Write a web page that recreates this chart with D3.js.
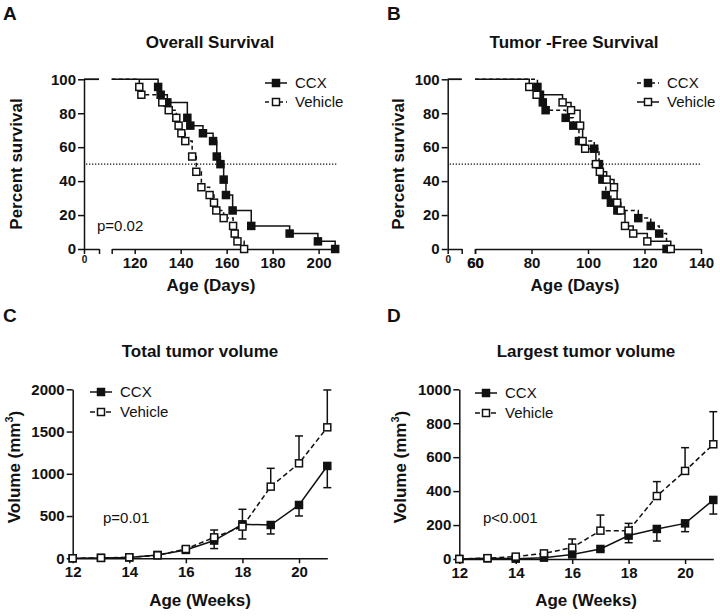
<!DOCTYPE html>
<html><head><meta charset="utf-8">
<script src="https://cdn.jsdelivr.net/npm/d3@7"></script>
<style>
body{margin:0;background:#fff}
svg{display:block}
text{font-family:"Liberation Sans",Arial,Helvetica,sans-serif;fill:#111}
</style>
</head><body>
<svg id="chart" width="720" height="616"></svg>
<script>
// ---------------- DATA ----------------
const survivalTicks = [0, 20, 40, 60, 80, 100];

// A: Overall survival (days, percent)
const osTicks = [120, 140, 160, 180, 200];
const osDaysCCX = [130.2,131.3,134.2,142.9,144.2,149.7,154.1,155.7,157.3,158.7,159.7,162.6,170.7,187.4,199.7,207.2];
const osPctCCX  = [95.5,90.9,86.4,77.3,72.7,68.2,63.6,54.5,50.0,40.9,31.8,22.7,13.6,9.1,4.5,0];
const osDaysVeh = [122.0,122.9,132.0,134.8,138.1,139.1,140.3,142.0,145.0,146.8,149.0,152.6,154.5,155.5,158.7,162.8,163.5,164.7,167.6];
const osPctVeh  = [95.5,90.9,86.4,81.8,77.3,72.7,68.2,63.6,54.5,45.5,36.4,31.8,27.3,22.7,18.2,13.6,9.1,4.5,0];

// B: Tumor-free survival
const tfTicks = [60, 80, 100, 120, 140];
const tfDaysCCX = [82.1,83.0,84.0,85.0,92.1,94.8,96.8,102.2,103.9,105.1,106.3,108.1,110.4,117.8,122.2,125.2,127.8];
const tfPctCCX  = [95.5,90.9,86.4,81.8,77.3,72.7,63.6,59.1,50.0,40.9,31.8,27.3,22.7,18.2,13.6,9.1,0];
const tfDaysVeh = [79.2,81.8,91.0,94.0,97.2,98.1,99.0,102.8,104.2,106.6,109.2,110.3,111.6,113.1,116.0,121.0,129.3];
const tfPctVeh  = [95.5,90.9,86.4,81.8,72.7,63.6,59.1,50.0,45.5,40.9,36.4,27.3,22.7,13.6,9.1,4.5,0];

// C / D: tumor volume by week
const weeks = [12,13,14,15,16,17,18,19,20,21];
const weekTicks = [12,14,16,18,20];
const totalTicks = [0,500,1000,1500,2000];
const totalCCX    = [0,5,10,40,99,210,402,394,631,1093];
const totalCCXErr = [0,0,0,5,15,95,173,106,130,257];
const totalVeh    = [0,5,12,35,110,248,375,848,1124,1550];
const totalVehErr = [0,0,5,8,20,87,205,217,324,442];
const largestTicks = [0,200,400,600,800,1000];
const largestCCX    = [0,4,2,8,27,59,138,177,210,348];
const largestCCXErr = [0,0,0,3,10,10,42,71,49,83];
const largestVeh    = [0,5,14,33,67,167,167,371,519,676];
const largestVehErr = [0,0,3,5,51,92,43,85,137,192];

// ---------------- DRAWING ----------------
const INK = "#111";
const svg = d3.select("#chart");
const fmt = d3.format("d");

function styleAxis(sel, fs) {
  sel.selectAll(".domain").attr("stroke", INK).attr("stroke-width", 1.5);
  sel.selectAll(".tick line").attr("stroke", INK).attr("stroke-width", 1.5);
  sel.selectAll(".tick text").attr("font-size", fs).attr("font-weight", "bold")
     .attr("fill", INK).attr("font-family", '"Liberation Sans",Arial,sans-serif');
}

function marker(g, x, y, filled) {
  g.append("rect").attr("x", x - 3.5).attr("y", y - 3.5).attr("width", 7).attr("height", 7)
    .attr("fill", filled ? INK : "#fff").attr("stroke", INK).attr("stroke-width", 1.5);
}

function legend(g, x0, ys, items) {
  items.forEach((it, i) => {
    const y = ys[i];
    g.append("line").attr("x1", x0).attr("x2", x0 + 22).attr("y1", y).attr("y2", y)
      .attr("stroke", INK).attr("stroke-width", 1.5).attr("stroke-dasharray", it.dash || null);
    marker(g, x0 + 11, y, it.filled);
    g.append("text").attr("x", x0 + 30).attr("y", y).attr("dy", "0.36em")
      .attr("font-size", 15).text(it.name);
  });
}

function panelText(g, cfg) {
  g.append("text").attr("x", cfg.letter[0]).attr("y", cfg.letter[1]).attr("font-size", 19)
    .attr("font-weight", "bold").text(cfg.letterText);
  g.append("text").attr("x", cfg.title[0]).attr("y", cfg.title[1]).attr("text-anchor", "middle")
    .attr("font-size", 17).attr("font-weight", "bold").text(cfg.titleText);
  g.append("text").attr("x", cfg.xlab[0]).attr("y", cfg.xlab[1]).attr("text-anchor", "middle")
    .attr("font-size", 17).attr("font-weight", "bold").text(cfg.xlabText);
}

function survivalPanel(cfg) {
  const g = svg.append("g");
  const y = d3.scaleLinear().domain([0, 100]).range([249, 79.3]);
  const xa = d3.scaleLinear().domain(cfg.seg1).range(cfg.r1);
  const xb = d3.scaleLinear().domain(cfg.seg2).range(cfg.r2);

  g.append("g").attr("transform", `translate(${cfg.r1[0]},0)`)
    .call(d3.axisLeft(y).tickValues(survivalTicks).tickSize(6).tickSizeOuter(0).tickPadding(2).tickFormat(fmt))
    .call(s => styleAxis(s, 15));

  const ax1 = g.append("g").attr("transform", "translate(0,249)")
    .call(d3.axisBottom(xa).tickValues(cfg.seg1).tickSize(5).tickSizeOuter(0)
      .tickFormat(d => d === 0 ? "0" : ""))
    .call(s => styleAxis(s, 10));
  ax1.selectAll(".tick text").attr("dy", "0.6em");

  g.append("g").attr("transform", "translate(0,249)")
    .call(d3.axisBottom(xb).tickValues([cfg.seg2[0]].concat(cfg.ticks)).tickSize(5).tickSizeOuter(0)
      .tickFormat(d => cfg.ticks.includes(d) ? fmt(d) : ""))
    .call(s => styleAxis(s, 15));

  // median reference line
  g.append("line").attr("x1", xa(cfg.seg1[0]) + 2).attr("x2", xb(cfg.seg2[1]))
    .attr("y1", y(50)).attr("y2", y(50)).attr("stroke", INK).attr("stroke-width", 1.3)
    .attr("stroke-dasharray", "1.3,1.7");

  const line = d3.line().x(d => xb(d[0])).y(d => y(d[1])).curve(d3.curveStepAfter);
  cfg.series.forEach(s => {
    const pts = [[cfg.seg2[0], 100]].concat(s.days.map((d, i) => [d, s.pct[i]]));
    g.append("path").attr("d", line(pts)).attr("fill", "none").attr("stroke", INK)
      .attr("stroke-width", 1.5).attr("stroke-dasharray", s.dash || null);
    g.append("line").attr("x1", xa(cfg.seg1[0])).attr("x2", xa(cfg.seg1[1]))
      .attr("y1", y(100)).attr("y2", y(100)).attr("stroke", INK).attr("stroke-width", 1.5);
  });
  cfg.series.forEach(s => {
    s.days.forEach((d, i) => marker(g, xb(d), y(s.pct[i]), s.filled));
  });

  legend(g, cfg.legendX, [83, 102], cfg.series);
  g.append("text").attr("transform", `translate(${cfg.ylabX},164) rotate(-90)`)
    .attr("text-anchor", "middle").attr("font-size", 17).attr("font-weight", "bold")
    .text("Percent survival");
  if (cfg.p) g.append("text").attr("x", cfg.p[0]).attr("y", cfg.p[1]).attr("font-size", 15).text(cfg.pText);
  panelText(g, cfg);
}

function volumePanel(cfg) {
  const g = svg.append("g");
  const x = d3.scaleLinear().domain([12, 21]).range(cfg.xr);
  const y = d3.scaleLinear().domain([0, cfg.yticks[cfg.yticks.length - 1]]).range(cfg.yr);

  g.append("g").attr("transform", `translate(${cfg.xr[0]},0)`)
    .call(d3.axisLeft(y).tickValues(cfg.yticks).tickSize(6).tickSizeOuter(0).tickPadding(2).tickFormat(fmt))
    .call(s => styleAxis(s, 15));
  g.append("g").attr("transform", `translate(0,${cfg.yr[0]})`)
    .call(d3.axisBottom(x).tickValues(weekTicks).tickSize(5).tickSizeOuter(0).tickFormat(fmt))
    .call(s => styleAxis(s, 15));

  const line = d3.line().x((d, i) => x(weeks[i])).y(d => y(d));
  cfg.series.forEach(s => {
    g.append("path").attr("d", line(s.values)).attr("fill", "none").attr("stroke", INK)
      .attr("stroke-width", 1.5).attr("stroke-dasharray", s.dash || null);
  });
  cfg.series.forEach(s => {
    s.values.forEach((v, i) => {
      const e = s.err[i];
      if (e > 0) {
        const y1 = y(v), y2 = y(v + s.dir * e), xx = x(weeks[i]);
        g.append("line").attr("x1", xx).attr("x2", xx).attr("y1", y1).attr("y2", y2)
          .attr("stroke", INK).attr("stroke-width", 1.5);
        g.append("line").attr("x1", xx - 4).attr("x2", xx + 4).attr("y1", y2).attr("y2", y2)
          .attr("stroke", INK).attr("stroke-width", 1.5);
      }
    });
  });
  cfg.series.forEach(s => {
    s.values.forEach((v, i) => marker(g, x(weeks[i]), y(v), s.filled));
  });

  legend(g, cfg.legendX, cfg.legendY, cfg.series);
  const yl = g.append("text").attr("transform", `translate(${cfg.ylabX},467) rotate(-90)`)
    .attr("text-anchor", "middle").attr("font-size", 17).attr("font-weight", "bold");
  yl.append("tspan").text("Volume (mm");
  yl.append("tspan").attr("font-size", 11).attr("dy", "-0.6em").text("3");
  yl.append("tspan").attr("dy", "0.45em").text(")");
  g.append("text").attr("x", cfg.p[0]).attr("y", cfg.p[1]).attr("font-size", 15).text(cfg.pText);
  panelText(g, cfg);
}

survivalPanel({
  seg1: [0, 7], r1: [84, 99], seg2: [110, 208], r2: [111.7, 337], ticks: osTicks,
  series: [
    { name: "CCX", filled: true, dash: null, days: osDaysCCX, pct: osPctCCX },
    { name: "Vehicle", filled: false, dash: "4,3", days: osDaysVeh, pct: osPctVeh }
  ],
  legendX: 265, ylabX: 22, p: [97, 231], pText: "p=0.02",
  letter: [3, 20], letterText: "A", title: [210, 48], titleText: "Overall Survival",
  xlab: [211, 291], xlabText: "Age (Days)"
});

survivalPanel({
  seg1: [0, 5], r1: [447.7, 461.7], seg2: [60, 140], r2: [475, 701], ticks: tfTicks,
  series: [
    { name: "CCX", filled: true, dash: "4,3", days: tfDaysCCX, pct: tfPctCCX },
    { name: "Vehicle", filled: false, dash: null, days: tfDaysVeh, pct: tfPctVeh }
  ],
  legendX: 637, ylabX: 404, p: null,
  letter: [387, 20], letterText: "B", title: [574, 48], titleText: "Tumor -Free Survival",
  xlab: [575, 291], xlabText: "Age (Days)"
});

volumePanel({
  xr: [72.7, 327.3], yr: [558.3, 389.3], yticks: totalTicks,
  series: [
    { name: "CCX", filled: true, dash: null, values: totalCCX, err: totalCCXErr, dir: -1 },
    { name: "Vehicle", filled: false, dash: "5,3", values: totalVeh, err: totalVehErr, dir: 1 }
  ],
  legendX: 90, legendY: [392, 412], ylabX: 20, p: [103, 523], pText: "p=0.01",
  letter: [3, 322], letterText: "C", title: [200, 357], titleText: "Total tumor volume",
  xlab: [200, 606], xlabText: "Age (Weeks)"
});

volumePanel({
  xr: [459.3, 713.3], yr: [559, 389.3], yticks: largestTicks,
  series: [
    { name: "CCX", filled: true, dash: null, values: largestCCX, err: largestCCXErr, dir: -1 },
    { name: "Vehicle", filled: false, dash: "5,3", values: largestVeh, err: largestVehErr, dir: 1 }
  ],
  legendX: 475, legendY: [393, 413], ylabX: 406, p: [483, 523], pText: "p<0.001",
  letter: [387, 322], letterText: "D", title: [586, 357], titleText: "Largest tumor volume",
  xlab: [586, 606], xlabText: "Age (Weeks)"
});
</script>
</body></html>
